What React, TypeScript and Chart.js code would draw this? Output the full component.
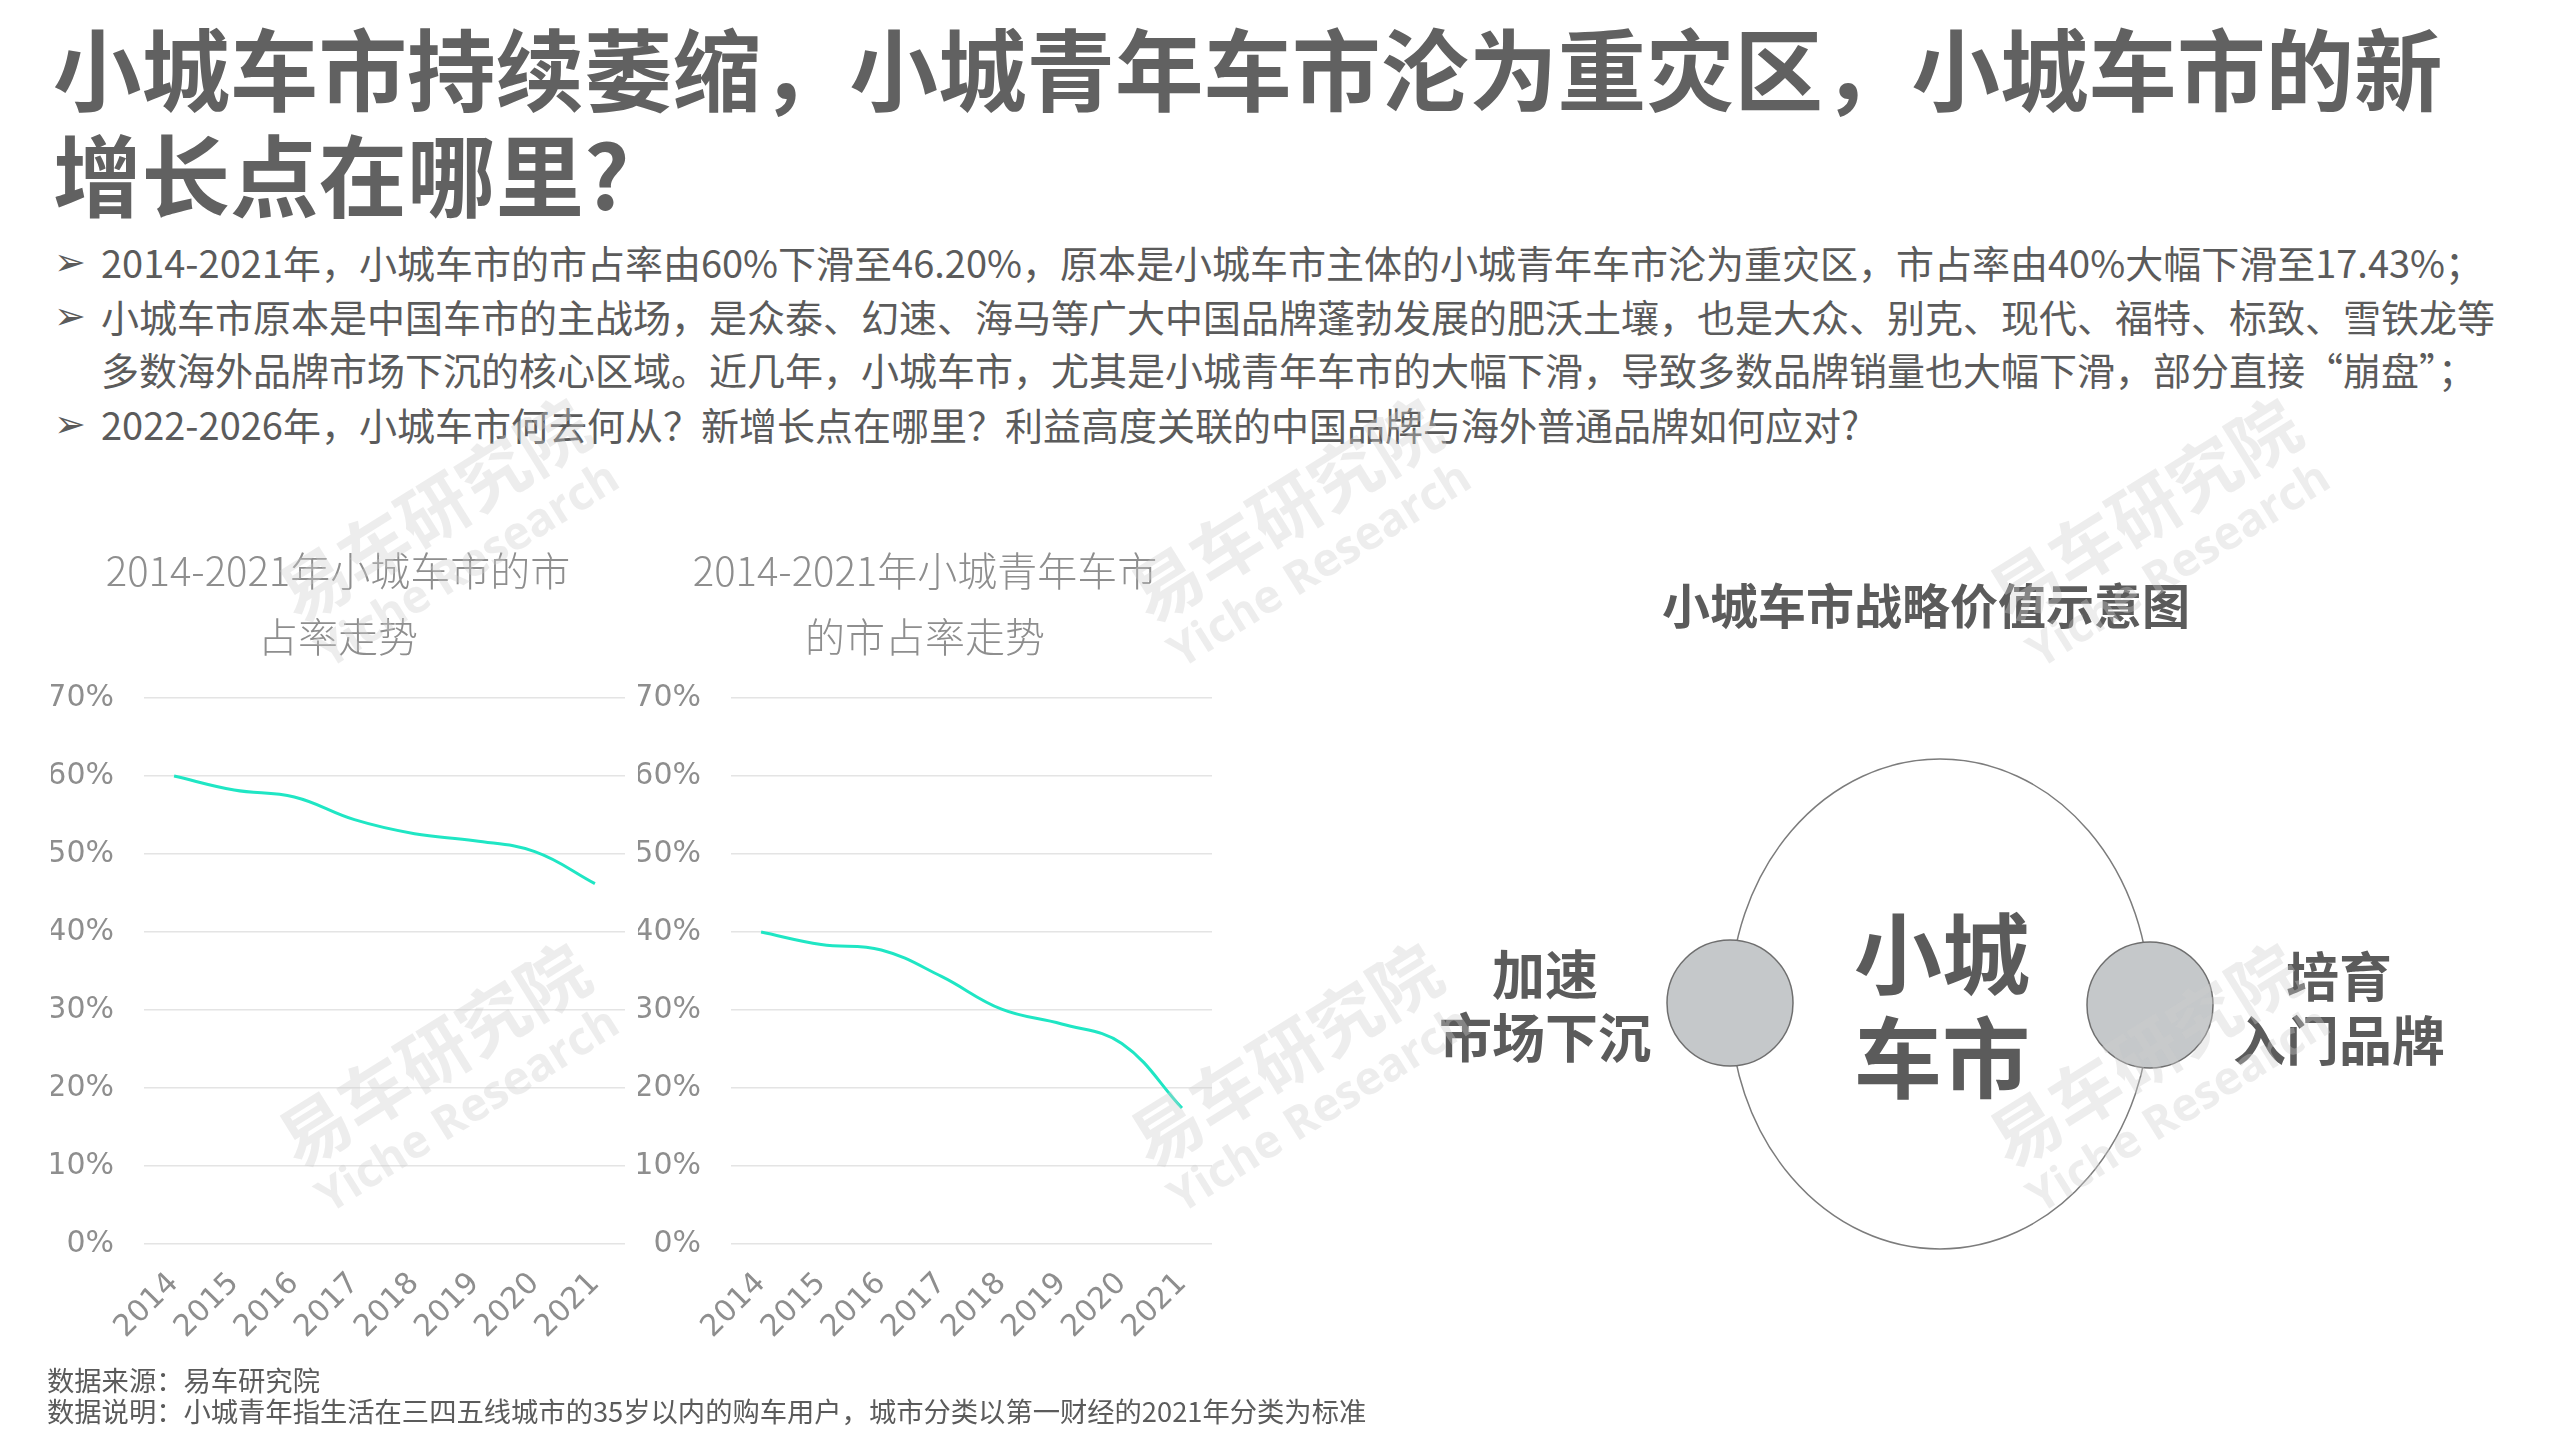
import React, { useEffect, useRef } from "react";
import { Chart, registerables } from "chart.js";

Chart.register(...registerables);

// ---------- data ----------
const years = ["2014", "2015", "2016", "2017", "2018", "2019", "2020", "2021"];
const smallCityShare = [60, 58.2, 57.3, 54.4, 52.6, 51.7, 50.3, 46.2];
const smallCityYouthShare = [40, 38.4, 37.7, 34.3, 30.1, 28.2, 25.7, 17.43];
const yAxisMin = 0;
const yAxisMax = 70;
const yAxisStep = 10;
const chart1Title = ["2014-2021年小城车市的市", "占率走势"];
const chart2Title = ["2014-2021年小城青年车市", "的市占率走势"];

const pageTitle = [
  "小城车市持续萎缩，小城青年车市沦为重灾区，小城车市的新",
  "增长点在哪里?",
];
const bulletLines = [
  { arrow: true, text: "2014-2021年，小城车市的市占率由60%下滑至46.20%，原本是小城车市主体的小城青年车市沦为重灾区，市占率由40%大幅下滑至17.43%；" },
  { arrow: true, text: "小城车市原本是中国车市的主战场，是众泰、幻速、海马等广大中国品牌蓬勃发展的肥沃土壤，也是大众、别克、现代、福特、标致、雪铁龙等" },
  { arrow: false, text: "多数海外品牌市场下沉的核心区域。近几年，小城车市，尤其是小城青年车市的大幅下滑，导致多数品牌销量也大幅下滑，部分直接“崩盘”；" },
  { arrow: true, text: "2022-2026年，小城车市何去何从？新增长点在哪里？利益高度关联的中国品牌与海外普通品牌如何应对?" },
];
const diagramTitle = "小城车市战略价值示意图";
const diagramCenter = ["小城", "车市"];
const diagramLeft = ["加速", "市场下沉"];
const diagramRight = ["培育", "入门品牌"];
const notes = [
  "数据来源：易车研究院",
  "数据说明：小城青年指生活在三四五线城市的35岁以内的购车用户，城市分类以第一财经的2021年分类为标准",
];

// ---------- styles ----------
const CJK = '"Noto Sans CJK SC", "Noto Sans", sans-serif';
const TICK_FONT = '"DejaVu Sans", "Noto Sans", sans-serif';
const TEXT = "#5b5b5b";
const TITLE = "#616161";
const AXIS_TEXT = "#8e8e8e";
const GRID = "#e4e4e4";
const LINE = "#1fe6c4";
const WM = "rgba(205,205,205,0.36)";

type LineProps = {
  x: number;
  y: number;
  size: number;
  weight?: number;
  color?: string;
  align?: "left" | "center";
  family?: string;
  children: React.ReactNode;
};

function TextLine({ x, y, size, weight = 400, color = TEXT, align = "left", family = CJK, children }: LineProps) {
  const lh = Math.round(size * 1.4);
  const top = y - lh / 2 - size * 0.056;
  const style: React.CSSProperties = {
    position: "absolute",
    top,
    fontSize: size,
    lineHeight: `${lh}px`,
    fontWeight: weight,
    color,
    fontFamily: family,
    whiteSpace: "nowrap",
  };
  if (align === "center") {
    style.left = x - 1500;
    style.width = 3000;
    style.textAlign = "center";
  } else {
    style.left = x;
  }
  return <div style={style}>{children}</div>;
}

type ChartProps = { left: number; top: number; title: string[]; values: number[] };

const CANVAS_W = 605;
const CANVAS_H = 857;

function ShareChart({ left, top, title, values }: ChartProps) {
  const ref = useRef<HTMLCanvasElement>(null);
  useEffect(() => {
    if (!ref.current) return;
    const chart = new Chart(ref.current, {
      type: "line",
      data: {
        labels: years,
        datasets: [
          {
            data: values,
            borderColor: LINE,
            backgroundColor: LINE,
            borderWidth: 3,
            pointRadius: 0,
            tension: 0.4,
            fill: false,
          },
        ],
      },
      options: {
        responsive: false,
        animation: false,
        devicePixelRatio: 1,
        layout: { padding: { left: 31, right: 0, top: 0, bottom: 0 } },
        plugins: {
          legend: { display: false },
          tooltip: { enabled: false },
          title: {
            display: true,
            text: title,
            color: AXIS_TEXT,
            font: { family: CJK, size: 40, weight: 300 as any, lineHeight: 1.65 },
            padding: { top: 35, bottom: 28 },
          },
        },
        scales: {
          x: {
            offset: true,
            grid: { display: false, drawTicks: false },
            border: { display: false },
            ticks: {
              color: AXIS_TEXT,
              font: { family: TICK_FONT, size: 30 },
              minRotation: 45,
              maxRotation: 45,
              autoSkip: false,
              padding: 22,
            },
            afterFit: (s: any) => {
              s.height = 116;
              s.paddingLeft = 0;
              s.paddingRight = 0;
            },
          },
          y: {
            min: yAxisMin,
            max: yAxisMax,
            grid: { color: GRID, lineWidth: 1.5, drawTicks: false },
            border: { display: false },
            ticks: {
              stepSize: yAxisStep,
              color: AXIS_TEXT,
              font: { family: TICK_FONT, size: 30 },
              padding: 30,
              callback: (v: any) => `${v}%`,
            },
            afterFit: (s: any) => {
              s.width = 93;
            },
          },
        },
      },
    });
    return () => chart.destroy();
  }, []);
  return (
    <canvas
      ref={ref}
      width={CANVAS_W}
      height={CANVAS_H}
      style={{ position: "absolute", left, top, width: CANVAS_W, height: CANVAS_H }}
    />
  );
}

function Watermark({ cx, cy }: { cx: number; cy: number }) {
  return (
    <div
      style={{
        position: "absolute",
        left: cx - 300,
        top: cy - 100,
        width: 600,
        height: 200,
        transform: "rotate(-32deg)",
        display: "flex",
        flexDirection: "column",
        alignItems: "center",
        justifyContent: "center",
        color: WM,
        pointerEvents: "none",
        whiteSpace: "nowrap",
      }}
    >
      <div style={{ fontFamily: CJK, fontWeight: 700, fontSize: 70, lineHeight: "76px" }}>易车研究院</div>
      <div style={{ fontFamily: '"Open Sans", sans-serif', fontWeight: 700, fontSize: 46, lineHeight: "54px" }}>
        Yiche Research
      </div>
    </div>
  );
}

const wmCols = [446, 1298, 2157];
const wmRows = [530, 1075];

export default function App() {
  const bulletY = [264, 318, 371, 426];
  return (
    <div
      style={{
        position: "fixed",
        left: 0,
        top: 0,
        width: 2559,
        height: 1439,
        background: "#ffffff",
        overflow: "hidden",
      }}
    >
      {/* Title */}
      <TextLine x={53} y={70} size={88.5} weight={700} color={TITLE}>{pageTitle[0]}</TextLine>
      <TextLine x={53} y={176} size={88.5} weight={700} color={TITLE}>{pageTitle[1]}</TextLine>

      {/* Bullets */}
      {bulletLines.map((b, i) => (
        <React.Fragment key={i}>
          {b.arrow && (
            <TextLine x={54} y={bulletY[i] + 1} size={38} family={'"DejaVu Sans", sans-serif'}>➢</TextLine>
          )}
          <TextLine x={101} y={bulletY[i]} size={38}>{b.text}</TextLine>
        </React.Fragment>
      ))}

      {/* Charts */}
      <ShareChart left={20} top={503} title={chart1Title} values={smallCityShare} />
      <ShareChart left={607} top={503} title={chart2Title} values={smallCityYouthShare} />

      {/* Diagram */}
      <svg
        width={2559}
        height={1439}
        style={{ position: "absolute", left: 0, top: 0, pointerEvents: "none" }}
      >
        <ellipse cx={1940} cy={1004} rx={210} ry={245} fill="#ffffff" stroke="#7c7c7c" strokeWidth={1.5} />
        <circle cx={1730} cy={1003} r={63} fill="#c5c8ca" stroke="#6f6f6f" strokeWidth={1.5} />
        <circle cx={2150} cy={1005} r={63} fill="#c5c8ca" stroke="#6f6f6f" strokeWidth={1.5} />
      </svg>
      <TextLine x={1926} y={606} size={48} weight={700} align="center">{diagramTitle}</TextLine>
      <TextLine x={1942} y={953} size={88} weight={700} align="center">{diagramCenter[0]}</TextLine>
      <TextLine x={1942} y={1057} size={88} weight={700} align="center">{diagramCenter[1]}</TextLine>
      <TextLine x={1545} y={975} size={53} weight={700} align="center">{diagramLeft[0]}</TextLine>
      <TextLine x={1545} y={1038} size={53} weight={700} align="center">{diagramLeft[1]}</TextLine>
      <TextLine x={2339} y={977} size={53} weight={700} align="center">{diagramRight[0]}</TextLine>
      <TextLine x={2339} y={1041} size={53} weight={700} align="center">{diagramRight[1]}</TextLine>

      {/* Notes */}
      <TextLine x={47} y={1381} size={27.3}>{notes[0]}</TextLine>
      <TextLine x={47} y={1412} size={27.3}>{notes[1]}</TextLine>

      {/* Watermarks */}
      {wmRows.map((r) => wmCols.map((c) => <Watermark key={`${r}-${c}`} cx={c} cy={r} />))}
    </div>
  );
}
